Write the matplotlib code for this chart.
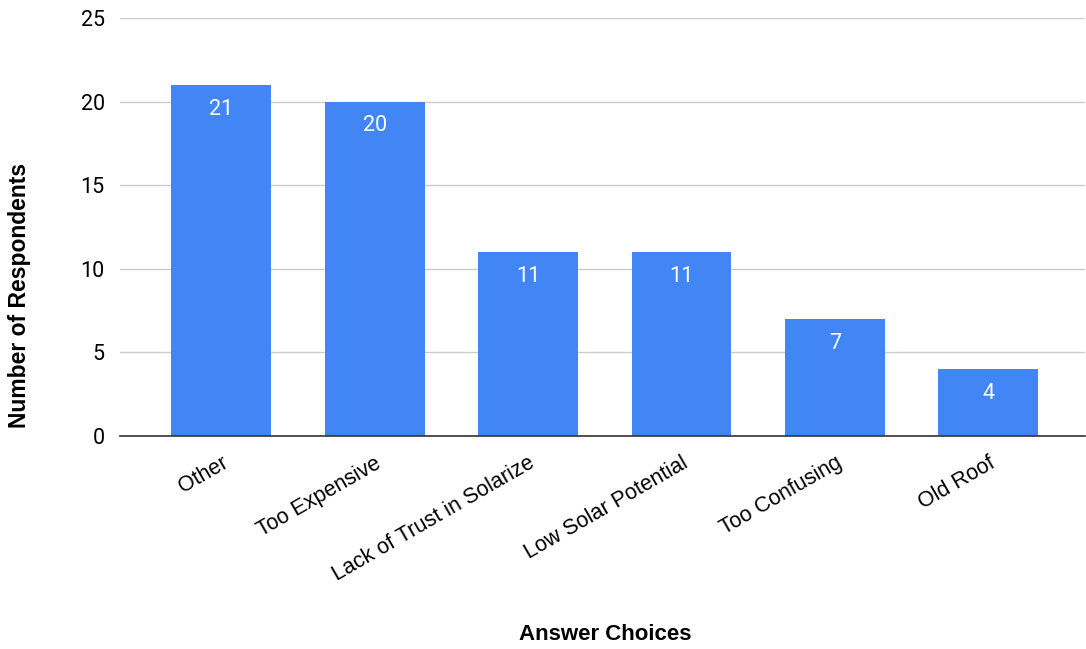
import matplotlib
matplotlib.use("Agg")
import matplotlib.pyplot as plt

plt.rcParams['font.family'] = ['Liberation Sans', 'DejaVu Sans']

# datos
categorias = ['Other', 'Too Expensive', 'Lack of Trust in Solarize',
              'Low Solar Potential', 'Too Confusing', 'Old Roof']
respuestas = [21, 20, 11, 11, 7, 4]
yticks = [0, 5, 10, 15, 20, 25]

fig = plt.figure(figsize=(10.86, 6.49), dpi=100)
ax = fig.add_axes([120 / 1086, 1 - 436 / 649, (1085 - 120) / 1086, (436 - 18) / 649])

x = list(range(len(categorias)))
barras = ax.bar(x, respuestas, width=0.65, color='#4285F4', zorder=3)

# etiquetas de valor dentro de cada barra
for xi, v in zip(x, respuestas):
    ax.annotate(str(v), (xi, v), xytext=(0, -10), textcoords='offset points',
                ha='center', va='top', color='white', fontsize=15.5,
                family=['Roboto', 'DejaVu Sans'], zorder=4)

ax.set_xlim(-0.66, 5.63)
ax.set_ylim(0, 25)
ax.set_yticks(yticks)
ax.set_yticklabels([str(t) for t in yticks], fontsize=15.5, family=['Roboto', 'DejaVu Sans'])
ax.set_xticks(x)
ax.set_xticklabels(categorias, rotation=30, ha='right', rotation_mode='anchor', fontsize=15.5)
ax.tick_params(axis='both', length=0)
ax.tick_params(axis='y', pad=11)
ax.tick_params(axis='x', pad=12)

ax.grid(axis='y', color='#cccccc', linewidth=1, zorder=0)
for s in ['top', 'right', 'left']:
    ax.spines[s].set_visible(False)
ax.spines['bottom'].set_color('#333333')
ax.spines['bottom'].set_linewidth(1.2)
ax.spines['bottom'].set_zorder(5)

fig.text(605 / 1086, 1 - 635 / 649, 'Answer Choices', ha='center', va='center',
         fontsize=16, fontweight='bold')
fig.text(20 / 1086, 1 - 295 / 649, 'Number of Respondents', ha='center', va='center',
         rotation=90, fontsize=16.5, fontweight='bold')

fig.savefig('out.png', dpi=100)
